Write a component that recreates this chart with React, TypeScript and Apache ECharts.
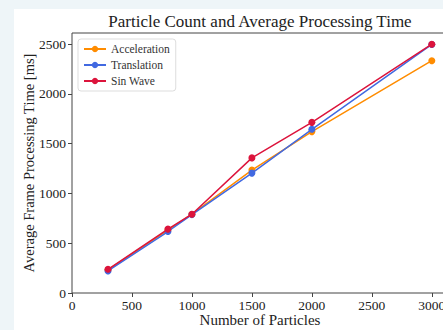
import React, { useEffect, useRef } from "react";
import * as echarts from "echarts";

const particleCounts = [300, 800, 1000, 1500, 2000, 3000];
const accelerationMs = [232, 632, 792, 1235, 1622, 2335];
const translationMs = [222, 618, 788, 1205, 1645, 2498];
const sinWaveMs = [238, 642, 792, 1358, 1715, 2500];
const yTicks = [0, 500, 1000, 1500, 2000, 2500];
const xTicks = [0, 500, 1000, 1500, 2000, 2500, 3000];

const FONT = "'Liberation Serif', 'DejaVu Serif', serif";

export default function App() {
  const ref = useRef<HTMLDivElement>(null);
  useEffect(() => {
    document.body.style.margin = "0";
    const chart = echarts.init(ref.current!, null, { renderer: "svg" });
    const mk = (name: string, vals: number[], color: string, z: number) => ({
      name,
      type: "line",
      data: particleCounts.map((x, i) => [x, vals[i]]),
      symbol: "circle",
      symbolSize: 7,
      lineStyle: { color, width: 1.5 },
      itemStyle: { color },
      z,
    });
    chart.setOption({
      animation: false,
      backgroundColor: "transparent",
      grid: {
        left: 72,
        top: 33,
        width: 376,
        height: 260,
        containLabel: false,
        outerBoundsMode: "none",
        show: true,
        backgroundColor: "#fff",
        borderColor: "#444",
        borderWidth: 1,
      },
      xAxis: {
        type: "value",
        min: 0,
        max: 3135,
        interval: 500,
        splitLine: { show: false },
        axisLine: { show: false },
        axisTick: { show: true, length: 4, inside: false, lineStyle: { color: "#444" }, customValues: xTicks },
        axisLabel: {
          customValues: xTicks,
          formatter: (v: number) => String(v),
          color: "#222",
          fontFamily: FONT,
          fontSize: 13.5,
          margin: 5,
          hideOverlap: false,
        },
      },
      yAxis: {
        type: "value",
        min: 0,
        max: 2613,
        interval: 500,
        splitLine: { show: false },
        axisLine: { show: false },
        axisTick: { show: true, length: 4, inside: false, lineStyle: { color: "#444" }, customValues: yTicks },
        axisLabel: {
          customValues: yTicks,
          formatter: (v: number) => String(v),
          color: "#222",
          fontFamily: FONT,
          fontSize: 13.5,
          margin: 6,
        },
      },
      legend: {
        orient: "vertical",
        left: 78,
        top: 39,
        padding: [4, 6, 4, 5],
        itemGap: 4,
        itemWidth: 22,
        itemHeight: 8,
        backgroundColor: "#fff",
        borderColor: "#ddd",
        borderWidth: 1,
        borderRadius: 3,
        textStyle: { fontFamily: FONT, fontSize: 11.5, color: "#333" },
        data: ["Acceleration", "Translation", "Sin Wave"],
      },
      graphic: [
        {
          type: "text",
          x: 260,
          y: 21,
          style: {
            text: "Particle Count and Average Processing Time",
            fontFamily: FONT,
            fontSize: 17,
            fill: "#222",
            align: "center",
            verticalAlign: "middle",
          },
        },
        {
          type: "text",
          x: 260,
          y: 320,
          style: {
            text: "Number of Particles",
            fontFamily: FONT,
            fontSize: 15,
            fill: "#222",
            align: "center",
            verticalAlign: "middle",
          },
        },
        {
          type: "text",
          x: 29,
          y: 163,
          rotation: Math.PI / 2,
          style: {
            text: "Average Frame Processing Time [ms]",
            fontFamily: FONT,
            fontSize: 14.5,
            fill: "#222",
            align: "center",
            verticalAlign: "middle",
          },
        },
      ],
      series: [
        mk("Acceleration", accelerationMs, "#ff8c00", 2),
        mk("Translation", translationMs, "#4169e1", 3),
        mk("Sin Wave", sinWaveMs, "#dc143c", 4),
      ],
    });
    return () => chart.dispose();
  }, []);
  return (
    <div style={{ width: 443, height: 330, background: "#eef5f8", position: "relative", overflow: "hidden" }}>
      <div style={{ position: "absolute", left: 14, top: 9, width: 429, height: 321, background: "#fff" }} />
      <div ref={ref} style={{ position: "absolute", left: 0, top: 0, width: 443, height: 330 }} />
    </div>
  );
}
